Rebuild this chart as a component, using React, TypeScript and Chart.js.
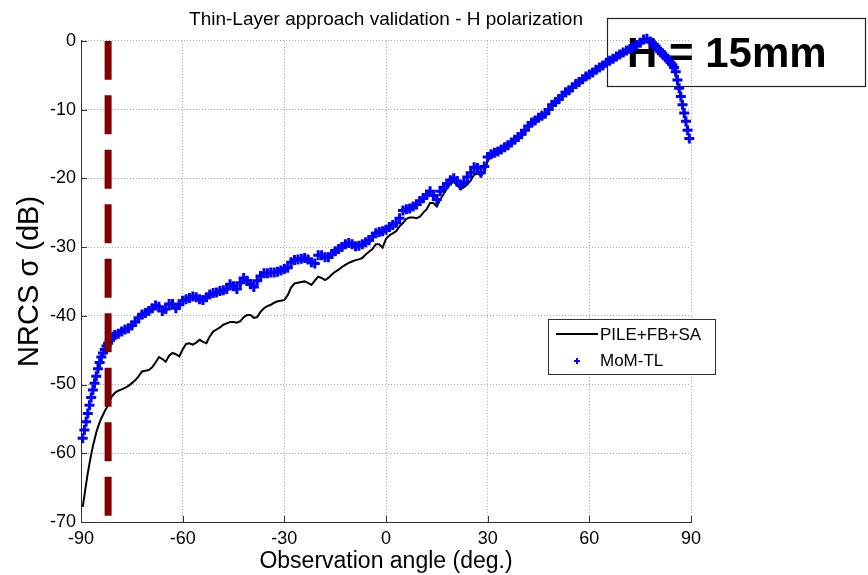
import React, { useEffect, useRef } from 'react';
import { Chart, registerables } from 'chart.js';

Chart.register(...registerables);

const FONT = '"Liberation Sans", Arial, Helvetica, sans-serif';

const chartTitle = 'Thin-Layer approach validation - H polarization';
const xAxisTitle = 'Observation angle (deg.)';
const yAxisTitle = 'NRCS \u03c3 (dB)';
const annotationText = 'H = 15mm';
const seriesNames = ['PILE+FB+SA', 'MoM-TL'];

const xTicks = [-90, -60, -30, 0, 30, 60, 90];
const yTicks = [-70, -60, -50, -40, -30, -20, -10, 0];

// vertical dashed limit
const limitAngle = -82;

// MoM-TL (blue + markers)
const blueAngles = [
  -89.5, -89, -88.5, -88, -87.5, -87, -86.5, -86, -85.5, -85,
  -84.5, -84, -83.5, -83, -82.5, -82, -81.5, -81, -80.5, -80,
  -79, -78, -77, -76, -75, -74, -73, -72, -71, -70,
  -69, -68, -67, -66, -65, -64, -63, -62, -61, -60,
  -59, -58, -57, -56, -55, -54, -53, -52, -51, -50,
  -49, -48, -47, -46, -45, -44, -43, -42, -41, -40,
  -39, -38, -37, -36, -35, -34, -33, -32, -31, -30,
  -29, -28, -27, -26, -25, -24, -23, -22, -21, -20,
  -19, -18, -17, -16, -15, -14, -13, -12, -11, -10,
  -9, -8, -7, -6, -5, -4, -3, -2, -1, 0,
  1, 2, 3, 4, 5, 6, 7, 8, 9, 10,
  11, 12, 13, 14, 15, 16, 17, 18, 19, 20,
  21, 22, 23, 24, 25, 26, 27, 28, 29, 30,
  31, 32, 33, 34, 35, 36, 37, 38, 39, 40,
  41, 42, 43, 44, 45, 46, 47, 48, 49, 50,
  51, 52, 53, 54, 55, 56, 57, 58, 59, 60,
  61, 62, 63, 64, 65, 66, 67, 68, 69, 70,
  71, 72, 73, 74, 75, 76, 77, 78, 79,
  79.5, 80, 80.5, 81, 81.5, 82, 82.5, 83, 83.5, 84,
  84.5, 85, 85.5, 86, 86.5, 87, 87.5, 88, 88.5, 89, 89.5,
];
const blueValues = [
  -57.8, -56.6, -55.4, -54.2, -53.0, -51.9, -50.8, -49.8, -48.8, -47.7,
  -46.8, -46.0, -45.4, -44.9, -44.4, -44.0, -43.6, -43.3, -43.0, -42.8,
  -42.6, -42.3, -42.0, -41.8, -41.4, -40.9, -40.3, -39.8, -39.6, -39.3,
  -38.9, -38.5, -38.7, -39.3, -39.0, -38.3, -38.3, -38.9, -38.4, -37.8,
  -37.6, -37.4, -37.2, -37.3, -37.6, -37.7, -37.3, -36.9, -36.7, -36.6,
  -36.4, -36.3, -36.1, -35.4, -35.7, -36.1, -35.2, -34.5, -34.9, -35.4,
  -35.8, -34.9, -34.2, -33.8, -33.8, -33.7, -33.7, -33.6, -33.4, -33.2,
  -33.0, -32.2, -31.9, -31.8, -31.7, -31.6, -31.8, -32.2, -32.4, -31.2,
  -31.2, -31.5, -31.5, -31.0, -30.6, -30.3, -30.0, -29.6, -29.4, -29.6,
  -29.9, -29.8, -29.6, -29.3, -29.0, -28.5, -28.0, -27.8, -27.7, -27.5,
  -27.1, -26.8, -26.5, -25.8, -24.7, -24.5, -24.4, -24.1, -23.8, -23.3,
  -22.9, -22.4, -21.9, -22.5, -23.1, -21.9, -21.3, -20.8, -20.3, -20.0,
  -20.4, -21.0, -20.6, -19.8, -19.2, -18.4, -18.5, -19.2, -18.3, -16.9,
  -16.5, -16.3, -16.1, -15.8, -15.5, -15.2, -14.8, -14.4, -14.0, -13.6,
  -13.0, -12.4, -11.9, -11.6, -11.2, -10.9, -10.6, -10.0, -9.3, -8.9,
  -8.5, -8.0, -7.5, -7.2, -6.8, -6.3, -6.0, -5.6, -5.2, -4.9,
  -4.6, -4.2, -3.9, -3.6, -3.2, -2.9, -2.6, -2.3, -2.0, -1.7,
  -1.4, -1.2, -0.9, -0.6, -0.3, 0.2, 0.3, -0.1, -0.5,
  -0.8, -1.1, -1.3, -1.6, -1.9, -2.1, -2.3, -2.6, -2.9, -3.2,
  -3.5, -3.9, -4.5, -5.7, -6.9, -8.1, -9.3, -10.5, -11.7, -13.0, -14.2,
];

// PILE+FB+SA (black line)
const blackAngles = [
  -89.5, -89, -88.5, -88, -87.5, -87, -86.5, -86, -85.5, -85, -84.5,
  -84, -83, -82, -81, -80, -79, -78, -77, -76, -75,
  -74, -73, -72, -71, -70, -69, -68, -67, -66, -65,
  -64, -63, -62, -61, -60, -59, -58, -57, -56, -55,
  -54, -53, -52, -51, -50, -49, -48, -47, -46, -45,
  -44, -43, -42, -41, -40, -39, -38, -37, -36, -35,
  -34, -33, -32, -31, -30, -29, -28, -27, -26, -25,
  -24, -23, -22, -21, -20, -19, -18, -17, -16, -15,
  -14, -13, -12, -11, -10, -9, -8, -7, -6, -5,
  -4, -3, -2, -1, 0, 1, 2, 3, 4, 5,
  6, 7, 8, 9, 10, 11, 12, 13, 14, 15,
  16, 17, 18, 19, 20, 21, 22, 23, 24, 25,
  26, 27, 28, 29, 30, 31, 32, 33, 34, 35,
  36, 37, 38, 39, 40, 41, 42, 43, 44, 45,
  46, 47, 48, 49, 50, 51, 52, 53, 54, 55,
  56, 57, 58, 59, 60, 61, 62, 63, 64, 65,
  66, 67, 68, 69, 70, 71, 72, 73, 74, 75,
  76, 77, 78, 79, 80, 81, 82, 83, 84, 85,
  86, 87, 88, 89,
];
const blackValues = [
  -67.8, -66.2, -64.5, -62.9, -61.5, -60.2, -59.0, -58.0, -57.0, -56.2, -55.5,
  -54.9, -53.9, -53.0, -51.8, -51.2, -50.9, -50.7, -50.5, -50.2, -49.8,
  -49.4, -48.8, -48.1, -48.0, -47.9, -47.5, -46.8, -46.0, -46.3, -46.7,
  -45.8, -45.4, -45.6, -45.9, -44.9, -44.1, -44.0, -44.2, -43.9, -43.5,
  -43.8, -44.0, -43.0, -42.3, -42.0, -41.7, -41.3, -41.1, -40.9, -40.9,
  -41.0, -40.8, -40.2, -39.9, -39.9, -40.3, -40.2, -39.4, -38.9, -38.6,
  -38.4, -38.1, -37.9, -37.8, -37.7, -37.0, -35.9, -35.3, -35.2, -35.1,
  -35.0, -35.2, -35.5, -34.9, -34.3, -34.5, -34.8, -34.5, -34.0, -33.6,
  -33.3, -32.9, -32.6, -32.3, -32.1, -31.9, -31.8, -31.6, -31.1, -30.7,
  -30.3, -29.6, -29.6, -30.1, -28.8, -28.3, -28.0, -27.7, -27.0, -26.5,
  -25.9, -25.7, -25.7, -25.8, -25.6, -25.0, -24.5, -23.6, -23.6, -24.1,
  -23.1, -22.3, -21.5, -20.8, -20.5, -21.0, -21.6, -21.3, -20.9, -20.3,
  -19.5, -19.3, -19.6, -19.2, -17.4, -16.9, -16.6, -16.4, -16.1, -15.8,
  -15.5, -15.1, -14.7, -14.3, -13.9, -13.3, -12.7, -12.2, -11.9, -11.5,
  -11.2, -10.9, -10.3, -9.6, -9.2, -8.8, -8.3, -7.8, -7.5, -7.1,
  -6.6, -6.3, -5.9, -5.5, -5.2, -4.9, -4.5, -4.2, -3.9, -3.5,
  -3.2, -2.9, -2.6, -2.3, -2.0, -1.7, -1.5, -1.2, -0.9, -0.6,
  -0.1, 0.0, -0.4, -0.8, -1.4, -1.9, -2.4, -2.9, -3.5, -4.2,
  -5.9, -8.3, -10.7, -13.2,
];

const overlayPlugin = {
  id: 'overlay',
  beforeDatasetsDraw(chart: any) {
    const { ctx } = chart;
    ctx.save();
    ctx.strokeStyle = '#222';
    ctx.lineWidth = 1.2;
    ctx.strokeRect(607.5, 18.5, 258, 68);
    ctx.font = `bold 42px ${FONT}`;
    ctx.fillStyle = '#000';
    ctx.textBaseline = 'alphabetic';
    ctx.textAlign = 'left';
    ctx.fillText(annotationText, 627, 66.5);
    ctx.restore();
  },
  afterDraw(chart: any) {
    const { ctx, chartArea, scales } = chart;
    ctx.save();
    // inward tick marks
    ctx.strokeStyle = '#333';
    ctx.lineWidth = 1;
    scales.x.ticks.forEach((t: any) => {
      const px = Math.round(scales.x.getPixelForValue(t.value)) + 0.5;
      ctx.beginPath();
      ctx.moveTo(px, chartArea.bottom);
      ctx.lineTo(px, chartArea.bottom - 6);
      ctx.stroke();
    });
    scales.y.ticks.forEach((t: any) => {
      const py = Math.round(scales.y.getPixelForValue(t.value)) + 0.5;
      ctx.beginPath();
      ctx.moveTo(chartArea.left, py);
      ctx.lineTo(chartArea.left + 6, py);
      ctx.stroke();
    });
    // legend
    const lx = 548.5, ly = 319.5, lw = 167, lh = 55;
    ctx.fillStyle = '#fff';
    ctx.fillRect(lx, ly, lw, lh);
    ctx.strokeStyle = '#333';
    ctx.lineWidth = 1;
    ctx.strokeRect(lx, ly, lw, lh);
    ctx.strokeStyle = '#000';
    ctx.lineWidth = 2;
    ctx.beginPath();
    ctx.moveTo(556, 334);
    ctx.lineTo(598, 334);
    ctx.stroke();
    ctx.strokeStyle = '#0000ff';
    ctx.lineWidth = 2;
    ctx.beginPath();
    ctx.moveTo(574, 361);
    ctx.lineTo(580, 361);
    ctx.moveTo(577, 358);
    ctx.lineTo(577, 364);
    ctx.stroke();
    ctx.fillStyle = '#000';
    ctx.font = `17px ${FONT}`;
    ctx.textBaseline = 'middle';
    ctx.textAlign = 'left';
    ctx.fillText(seriesNames[0], 600, 335);
    ctx.fillText(seriesNames[1], 600, 361);
    ctx.restore();
  },
};

export default function App() {
  const ref = useRef<HTMLCanvasElement>(null);
  useEffect(() => {
    if (!ref.current) return;
    const blueData = blueAngles.map((x, i) => ({ x, y: blueValues[i] }));
    const blackData = blackAngles.map((x, i) => ({ x, y: blackValues[i] }));
    const limitData = [
      { x: limitAngle, y: yTicks[yTicks.length - 1] },
      { x: limitAngle, y: yTicks[0] },
    ];
    const tickFont = { family: FONT, size: 18 };
    const chart = new Chart(ref.current, {
      type: 'line',
      data: {
        datasets: [
          {
            label: 'limit',
            data: limitData,
            borderColor: '#800000',
            borderWidth: 7,
            borderDash: [39, 15.5],
            borderCapStyle: 'butt',
            pointRadius: 0,
            order: 0,
          },
          {
            label: seriesNames[1],
            data: blueData,
            showLine: false,
            pointStyle: 'cross',
            pointRadius: 5,
            pointBorderWidth: 3,
            pointBorderColor: '#0000ff',
            pointBackgroundColor: '#0000ff',
            borderColor: '#0000ff',
            clip: false,
            order: 1,
          },
          {
            label: seriesNames[0],
            data: blackData,
            borderColor: '#000000',
            borderWidth: 2,
            pointRadius: 0,
            tension: 0,
            order: 2,
          },
        ],
      } as any,
      options: {
        animation: false,
        responsive: false,
        devicePixelRatio: 1,
        events: [],
        layout: { padding: { left: 0, right: 177, top: 0, bottom: 0 } },
        plugins: {
          legend: { display: false },
          tooltip: { enabled: false },
          title: {
            display: true,
            text: chartTitle,
            fullSize: false,
            color: '#000',
            font: { family: FONT, size: 19, weight: 'normal' },
            padding: { top: 8, bottom: 10 },
          },
        },
        scales: {
          x: {
            type: 'linear',
            min: xTicks[0],
            max: xTicks[xTicks.length - 1],
            afterBuildTicks: (s: any) => {
              s.ticks = xTicks.map((v) => ({ value: v }));
            },
            afterFit: (s: any) => {
              s.height = 53;
            },
            ticks: { font: tickFont, color: '#000', padding: 6, maxRotation: 0, autoSkip: false },
            grid: { color: '#a8a8a8', lineWidth: 1, drawTicks: false },
            border: { display: true, color: '#333', width: 1, dash: [1, 2] },
            title: {
              display: true,
              text: xAxisTitle,
              color: '#000',
              font: { family: FONT, size: 23 },
              padding: { top: 0, bottom: 0 },
            },
          },
          y: {
            type: 'linear',
            min: yTicks[0],
            max: yTicks[yTicks.length - 1],
            afterBuildTicks: (s: any) => {
              s.ticks = yTicks.map((v) => ({ value: v }));
            },
            afterFit: (s: any) => {
              s.width = 81;
            },
            ticks: { font: tickFont, color: '#000', padding: 5, autoSkip: false },
            grid: { color: '#a8a8a8', lineWidth: 1, drawTicks: false },
            border: { display: true, color: '#333', width: 1, dash: [1, 2] },
            title: {
              display: true,
              text: yAxisTitle,
              color: '#000',
              font: { family: FONT, size: 29 },
              padding: { top: 13, bottom: 0 },
            },
          },
        },
      } as any,
      plugins: [overlayPlugin],
    });
    return () => chart.destroy();
  }, []);
  return (
    <div style={{ position: 'fixed', left: 0, top: 0, width: 868, height: 575, background: '#fff' }}>
      <canvas ref={ref} width={868} height={575} style={{ width: 868, height: 575, display: 'block' }} />
    </div>
  );
}
